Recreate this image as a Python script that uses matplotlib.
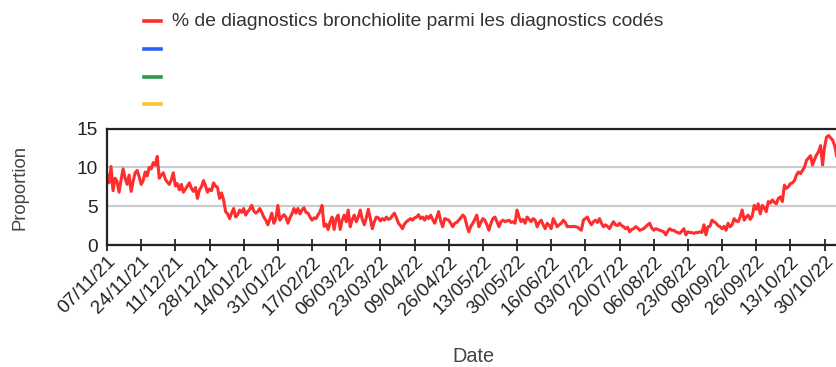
import matplotlib
matplotlib.use("Agg")
import matplotlib.pyplot as plt
import matplotlib.dates as mdates
from matplotlib.lines import Line2D
import pandas as pd

start_date = "2021-11-07"

# Daily share (%) of bronchiolitis diagnoses among coded diagnoses
pct_bronchiolite = [
    9.0, 8.0, 10.1, 7.0, 8.6, 8.2, 6.8, 8.4, 9.8, 8.6, 7.8, 9.0, 6.9,
    8.2, 9.3, 9.6, 8.8, 7.8, 8.3, 9.4, 8.9, 10.0, 9.8, 10.6, 10.3, 11.4,
    8.6, 9.0, 9.3, 8.5, 8.1, 7.8, 8.4, 9.3, 7.6, 7.9, 7.1, 7.8, 6.8, 7.2,
    7.6, 8.0, 7.3, 6.9, 7.4, 6.0, 7.1, 7.5, 8.3, 7.6, 6.8, 7.2, 7.0, 8.0,
    7.6, 7.4, 6.0, 6.7, 5.8, 4.3, 4.0,
    3.4, 4.1, 4.7, 3.6, 3.9, 4.5, 4.2, 4.7, 3.85, 4.3, 4.6, 5.1, 4.4, 4.1,
    4.3, 4.7, 4.2, 3.6, 3.2, 2.6, 3.3, 4.1, 2.8, 3.4, 5.1, 3.2, 3.6, 3.9,
    3.6, 2.8, 3.5, 4.0, 4.7, 4.1, 4.7, 4.0, 4.5, 4.8, 4.2, 4.1, 3.6, 3.2,
    3.5, 3.4, 3.9, 4.3, 5.1, 2.4, 2.7, 2.0, 3.0, 3.6, 2.0, 3.4, 3.85, 2.0,
    3.2, 3.85, 3.0, 4.5,
    2.35, 3.3, 3.85, 3.0, 3.6, 4.5, 3.3, 2.6, 3.5, 4.6, 3.4, 2.1, 3.0, 3.6,
    3.5, 3.1, 3.4, 3.2, 3.6, 3.3, 3.4, 3.8, 4.1, 3.5, 2.8, 2.5, 2.1, 2.7,
    3.0, 3.2, 3.4, 3.2, 3.5, 3.6, 3.9, 3.4, 3.6, 3.2, 3.7, 3.4, 3.85, 3.3,
    2.8, 3.5, 4.3, 3.1, 2.35, 3.4, 3.3, 3.2, 2.8, 2.35, 2.8, 2.9, 3.2, 3.5,
    3.85, 3.6, 2.5, 1.7,
    2.4, 2.8, 3.3, 3.85, 2.35, 2.9, 3.4, 3.2, 2.6, 1.9, 2.8, 3.4, 3.6, 3.0,
    2.35, 3.0, 3.2, 3.0, 3.1, 3.2, 2.9, 3.0, 2.8, 4.5, 3.6, 3.0, 3.3, 2.8,
    3.6, 3.3, 3.0, 3.4, 3.2, 2.35, 2.9, 3.2, 2.6, 2.1, 2.8, 2.5, 2.1, 3.4,
    2.9, 2.35, 2.6, 2.8, 3.2, 2.9, 2.35, 2.4, 2.35, 2.4, 2.35, 2.3, 2.1,
    1.9, 3.2, 3.4, 3.6, 3.0,
    2.6, 3.0, 3.2, 2.9, 3.4, 2.8, 2.35, 2.6, 2.4, 2.1, 2.6, 3.0, 2.6, 2.5,
    2.8, 2.5, 2.35, 2.1, 2.3, 1.7, 2.0, 2.1, 2.35, 2.2, 1.9, 2.0, 2.1, 2.35,
    2.6, 2.8, 2.2, 1.9, 2.1, 2.0, 1.9, 1.8, 1.7, 1.3, 1.8, 2.1, 1.9, 1.9,
    1.7, 1.6, 1.5, 1.8, 2.1, 1.3, 1.7, 1.6, 1.6, 1.5, 1.6, 1.6, 1.7, 1.6,
    2.6, 1.3, 2.35,
    2.4, 3.2, 3.0, 2.8, 2.5, 2.35, 2.1, 2.4, 1.9, 2.8, 2.35, 2.6, 3.4, 3.1,
    3.0, 3.6, 4.5, 3.2, 3.6, 3.85, 3.3, 3.7, 5.1, 4.6, 5.3, 4.0, 5.1, 4.8,
    4.3, 5.6, 5.4, 5.8, 5.5, 5.3, 6.0, 6.2, 5.6, 7.7, 7.3, 7.5, 7.9, 8.0,
    8.3, 9.0, 9.4, 9.2, 9.6, 10.0, 10.9, 11.2, 11.5, 10.3, 11.0, 11.6, 12.0,
    12.8, 10.3, 12.6, 13.9, 14.1, 13.8, 13.5, 12.8, 11.5,
]

series_label = "% de diagnostics bronchiolite parmi les diagnostics codés"
extra_colors = ["#2a62f5", "#2e9a4e", "#fcc42d"]
y_ticks = [0, 5, 10, 15]
tick_step_days = 17
n_ticks = 22

dates = pd.date_range(start_date, periods=len(pct_bronchiolite), freq="D")
tick_dates = pd.date_range(start_date, periods=n_ticks, freq=f"{tick_step_days}D")

W, H = 837, 367
fig = plt.figure(figsize=(W / 100, H / 100), dpi=100)
plt.rcParams["font.family"] = ["Liberation Sans", "DejaVu Sans"]

# Plot area in pixel geometry
left_px, bottom_px, top_px = 107, 245, 128.5
px_per_day = 2.01
span_days = 366
ax = fig.add_axes([left_px / W, (H - bottom_px) / H,
                   span_days * px_per_day / W, (bottom_px - top_px) / H])

ax.plot(dates, pct_bronchiolite, color="#ff2e2e", lw=2.2, solid_joinstyle="round")

ax.set_xlim(dates[0], dates[0] + pd.Timedelta(days=span_days))
ax.set_ylim(0, 15)
ax.set_yticks(y_ticks)
ax.set_xticks(tick_dates)
ax.xaxis.set_major_formatter(mdates.DateFormatter("%d/%m/%y"))

ax.grid(axis="y", color="#cccccc", lw=1.6)
ax.set_axisbelow(True)
for side in ["left", "top", "bottom"]:
    ax.spines[side].set_color("#222222")
    ax.spines[side].set_linewidth(1.6)
ax.spines["right"].set_visible(False)

ax.tick_params(axis="x", direction="inout", length=8, width=1.3, color="#222222",
               labelsize=13.8, labelcolor="#222222", pad=2)
ax.tick_params(axis="y", length=0, labelsize=13.8, labelcolor="#222222", pad=6.5)
for lbl in ax.get_xticklabels():
    lbl.set_rotation(45)
    lbl.set_ha("right")
    lbl.set_rotation_mode("anchor")

fig.text(20 / W, 1 - 188 / H, "Proportion", rotation=90, ha="center", va="center",
         fontsize=13.3, color="#444444")
fig.text(473 / W, 1 - 357 / H, "Date", ha="center", va="center",
         fontsize=14.3, color="#444444")

# Legend: one named series and three unnamed slots
legend_colors = ["#ff2e2e"] + extra_colors
for i, c in enumerate(legend_colors):
    yy = 1 - (21 + 27.8 * i) / H
    fig.add_artist(Line2D([144 / W, 161 / W], [yy, yy], color=c, lw=2.6,
                          transform=fig.transFigure))
fig.text(172 / W, 1 - 21 / H, series_label, ha="left", va="center",
         fontsize=13.9, color="#333333")

fig.savefig("out.png", dpi=100)
